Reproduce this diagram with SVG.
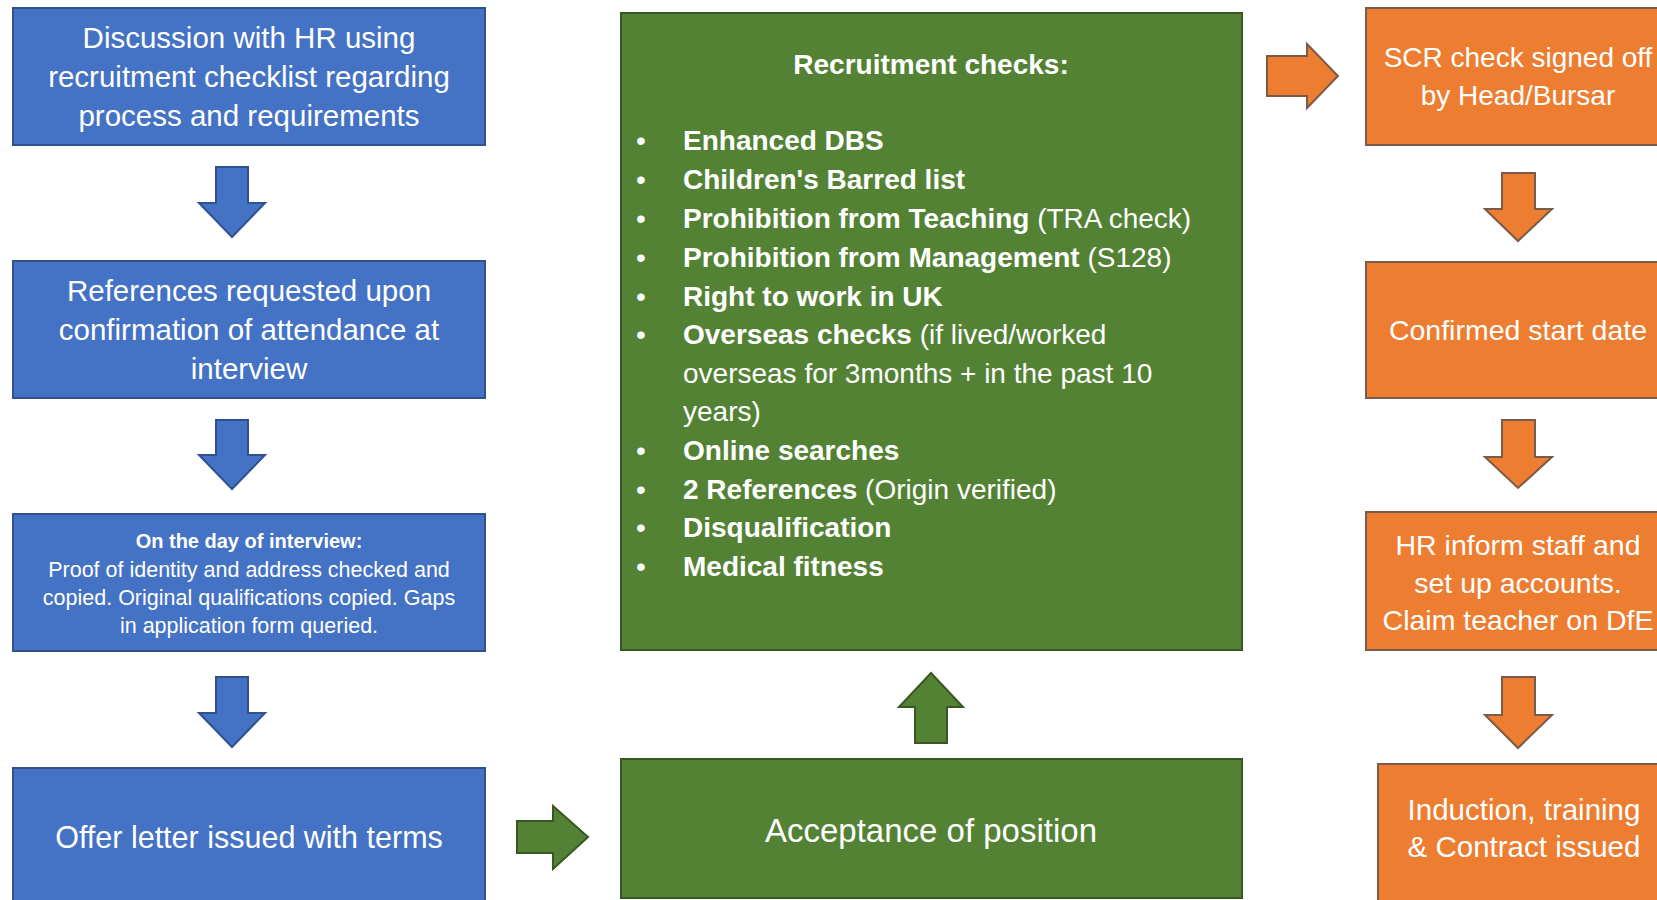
<svg xmlns="http://www.w3.org/2000/svg" width="1657" height="900" viewBox="0 0 1657 900">
<style>
text{font-family:"Liberation Sans",Arial,sans-serif;fill:#ffffff}
.c{text-anchor:middle}
.blue{fill:#4472C4;stroke:#2F528F;stroke-width:2}
.green{fill:#548235;stroke:#385723;stroke-width:2}
.orange{fill:#ED7D31;stroke:#7a5a48;stroke-width:2}
.t28{font-size:29.5px}
.or{font-size:28.5px}
.t20{font-size:21.5px}
.li{font-size:28px}
.b{font-weight:bold}
</style>
<rect width="1657" height="900" fill="#ffffff"/>
<g id="connectors">
<path class="blue" d="M216,167H248V203H265L232,237L199,203H216Z"/>
<path class="blue" d="M216,420H248V455H265L232,489L199,455H216Z"/>
<path class="blue" d="M216,677H248V713H265L232,747L199,713H216Z"/>
<path class="green" d="M517,821H553V806L588,837L553,869V853H517Z"/>
<path class="green" d="M915,743V707H899L931,673L963,707H947V743Z"/>
<path class="orange" d="M1267,56H1307V44L1338,76L1307,108V96H1267Z"/>
<path class="orange" d="M1502,173H1535V209H1552L1518,241L1485,209H1502Z"/>
<path class="orange" d="M1502,420H1535V457H1552L1518,488L1485,457H1502Z"/>
<path class="orange" d="M1502,677H1535V715H1552L1518,748L1485,715H1502Z"/>
</g>
<g id="n1">
<rect class="blue" x="13" y="8" width="472" height="137"/>
<text class="c t28" x="249" y="48">Discussion with HR using</text>
<text class="c t28" x="249" y="87">recruitment checklist regarding</text>
<text class="c t28" x="249" y="126">process and requirements</text>
</g>
<g id="n2">
<rect class="blue" x="13" y="261" width="472" height="137"/>
<text class="c t28" x="249" y="301">References requested upon</text>
<text class="c t28" x="249" y="340">confirmation of attendance at</text>
<text class="c t28" x="249" y="379">interview</text>
</g>
<g id="n3">
<rect class="blue" x="13" y="514" width="472" height="137"/>
<text class="c b" font-size="20" x="249" y="548">On the day of interview:</text>
<text class="c t20" x="249" y="577">Proof of identity and address checked and</text>
<text class="c t20" x="249" y="605">copied. Original qualifications copied. Gaps</text>
<text class="c t20" x="249" y="633">in application form queried.</text>
</g>
<g id="n4">
<rect class="blue" x="13" y="768" width="472" height="140"/>
<text class="c" font-size="30.5" x="249" y="848">Offer letter issued with terms</text>
</g>
<g id="n5">
<rect class="green" x="621" y="13" width="621" height="637"/>
<text class="c li b" x="931" y="74">Recruitment checks:</text>
<g class="li">
<text x="636" y="150">•</text><text x="683" y="150" class="b">Enhanced DBS</text>
<text x="636" y="189">•</text><text x="683" y="189" class="b">Children's Barred list</text>
<text x="636" y="228">•</text><text x="683" y="228"><tspan class="b">Prohibition from Teaching</tspan> (TRA check)</text>
<text x="636" y="267">•</text><text x="683" y="267"><tspan class="b">Prohibition from Management</tspan> (S128)</text>
<text x="636" y="306">•</text><text x="683" y="306" class="b">Right to work in UK</text>
<text x="636" y="344">•</text><text x="683" y="344"><tspan class="b">Overseas checks</tspan> (if lived/worked</text>
<text x="683" y="383">overseas for 3months + in the past 10</text>
<text x="683" y="421">years)</text>
<text x="636" y="460">•</text><text x="683" y="460" class="b">Online searches</text>
<text x="636" y="499">•</text><text x="683" y="499"><tspan class="b">2 References</tspan> (Origin verified)</text>
<text x="636" y="537">•</text><text x="683" y="537" class="b">Disqualification</text>
<text x="636" y="576">•</text><text x="683" y="576" class="b">Medical fitness</text>
</g>
</g>
<g id="n6">
<rect class="green" x="621" y="759" width="621" height="139"/>
<text class="c" x="931" y="842" font-size="33">Acceptance of position</text>
</g>
<g id="n7">
<rect class="orange" x="1366" y="8" width="310" height="137"/>
<text class="c" font-size="28" x="1518" y="67">SCR check signed off</text>
<text class="c" font-size="28" x="1518" y="105">by Head/Bursar</text>
</g>
<g id="n8">
<rect class="orange" x="1366" y="262" width="310" height="136"/>
<text class="c or" x="1518" y="340">Confirmed start date</text>
</g>
<g id="n9">
<rect class="orange" x="1366" y="512" width="310" height="138"/>
<text class="c or" x="1518" y="555">HR inform staff and</text>
<text class="c or" x="1518" y="593">set up accounts.</text>
<text class="c or" x="1518" y="630">Claim teacher on DfE</text>
</g>
<g id="n10">
<rect class="orange" x="1378" y="764" width="300" height="145"/>
<text class="c t28" x="1524" y="820">Induction, training</text>
<text class="c t28" x="1524" y="857">&amp; Contract issued</text>
</g>
</svg>
